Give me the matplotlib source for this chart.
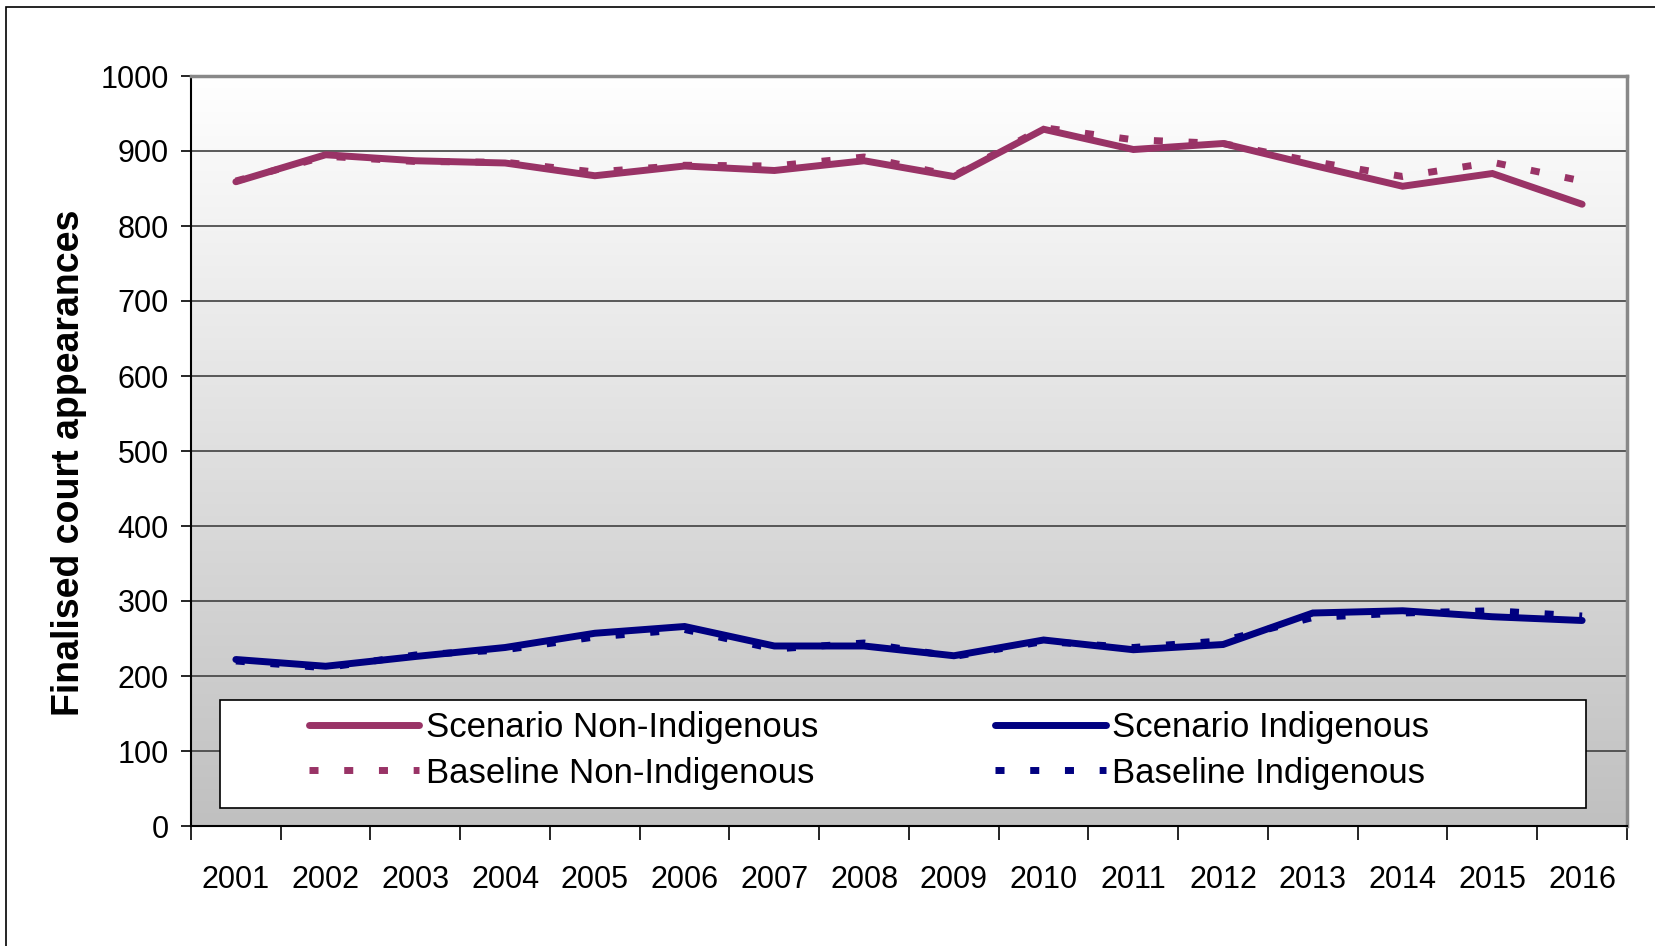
import numpy as np
import matplotlib
matplotlib.use('Agg')
import matplotlib.pyplot as plt
from matplotlib.patches import Rectangle

years = ['2001', '2002', '2003', '2004', '2005', '2006', '2007', '2008',
         '2009', '2010', '2011', '2012', '2013', '2014', '2015', '2016']
scenario_non_indig = [859, 895, 887, 884, 867, 880, 874, 887, 866, 929, 902, 910, 881, 853, 870, 829]
baseline_non_indig = [860, 893, 886, 885, 872, 881, 880, 892, 867, 931, 915, 910, 886, 866, 885, 860]
scenario_indig = [222, 213, 226, 238, 257, 266, 240, 240, 227, 248, 235, 242, 284, 287, 279, 274]
baseline_indig = [220, 211, 228, 235, 252, 262, 236, 244, 226, 246, 238, 247, 278, 284, 287, 280]

PLUM = '#993366'
NAVY = '#000080'
plt.rcParams['font.family'] = ['Liberation Sans', 'DejaVu Sans']

W, H = 1656, 946
fig = plt.figure(figsize=(W / 100, H / 100), dpi=100)
ax = fig.add_axes([191 / W, 1 - 826 / H, (1627 - 191) / W, (826 - 76) / H])

# gradient background, white at top to grey at bottom
grad = np.linspace(1.0, 0.0, 256).reshape(-1, 1)
ax.imshow(grad, cmap=matplotlib.colors.LinearSegmentedColormap.from_list(
    'bg', ['#c0c0c0', '#ffffff']), aspect='auto', extent=[0, 1, 0, 1],
    transform=ax.transAxes, zorder=0, interpolation='bicubic')

x = np.arange(len(years))
ax.plot(x, scenario_non_indig, color=PLUM, lw=5, solid_capstyle='round',
        solid_joinstyle='miter', label='Scenario Non-Indigenous', zorder=4)
ax.plot(x, baseline_non_indig, color=PLUM, lw=5, dashes=(1.3, 3.7),
        dash_capstyle='butt', label='Baseline Non-Indigenous', zorder=3)
ax.plot(x, scenario_indig, color=NAVY, lw=5, solid_capstyle='round',
        solid_joinstyle='miter', label='Scenario Indigenous', zorder=4)
ax.plot(x, baseline_indig, color=NAVY, lw=5, dashes=(1.3, 3.7),
        dash_capstyle='butt', label='Baseline Indigenous', zorder=3)

ax.set_xlim(-0.5, len(years) - 0.5)
ax.set_ylim(0, 1000)
ax.set_yticks(range(0, 1001, 100))
ax.tick_params(axis='y', direction='out', length=7, width=1.2, labelsize=22, pad=9)
ax.set_xticks(np.arange(-0.5, len(years), 1.0))
ax.set_xticklabels([])
ax.set_xticks(x, minor=True)
ax.set_xticklabels(years, minor=True, fontsize=22)
ax.tick_params(axis='x', which='major', direction='out', length=10, width=1.2)
ax.tick_params(axis='x', which='minor', length=0, pad=28)

ax.grid(axis='y', color='#404040', lw=1.2, zorder=1)
ax.set_axisbelow(True)
for side in ['top', 'right']:
    ax.spines[side].set_color('#888888')
    ax.spines[side].set_linewidth(2.5)
for side in ['left', 'bottom']:
    ax.spines[side].set_color('black')
    ax.spines[side].set_linewidth(1.5)

fig.text(69 / W, 1 - 463 / H, 'Finalised court appearances', rotation=90,
         ha='center', va='center', fontsize=27, fontweight='bold')

# legend box (white, black edge) drawn separately to match the padding
box = Rectangle((220 / W, 1 - 808 / H), (1586 - 220) / W, 108 / H,
                transform=fig.transFigure, facecolor='white', edgecolor='black',
                lw=1.2, zorder=5, clip_on=False)
ax.add_patch(box)

leg = ax.legend(ncol=2, loc='upper left', bbox_to_anchor=(309 / W, 1 - 711 / H),
                bbox_transform=fig.transFigure, borderaxespad=0, borderpad=0,
                fontsize=25, frameon=False,
                handlelength=3.17, handletextpad=0.2, columnspacing=5.1,
                labelspacing=0.36)
leg.set_zorder(6)

# outer chart border
fig.patches.append(Rectangle((6 / W, -0.1), 1.2, 1.1 - 7 / H, transform=fig.transFigure,
                             fill=False, edgecolor='black', lw=1.2))

fig.savefig('out.png', dpi=100)
